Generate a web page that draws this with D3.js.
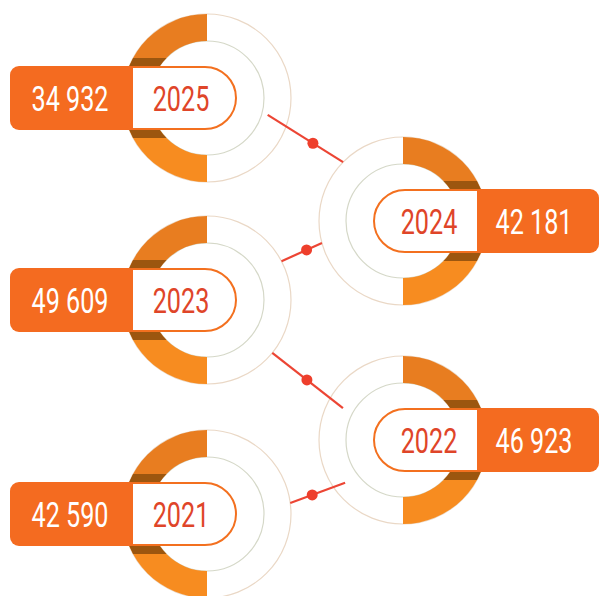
<!DOCTYPE html>
<html>
<head>
<meta charset="utf-8">
<script src="https://cdn.jsdelivr.net/npm/d3@7"></script>
<style>
  body { margin: 0; background: #fff; }
  text { font-family: "Roboto", "DejaVu Sans Condensed", sans-serif; }
</style>
</head>
<body>
<div id="chart"></div>
<script>
// data
var years = ["2025", "2024", "2023", "2022", "2021"];
var values = [34932, 42181, 49609, 46923, 42590];

var svgWidth = 599;
var svgHeight = 596;

var outerR = 84;
var innerR = 57;
var labelH = 62;

// ring layout (left / right column, staggered rows)
var xPos = d3.scaleOrdinal().domain(["left", "right"]).range([207, 403]);
var yPos = d3.scaleOrdinal().domain(years).range([98, 221, 300, 440, 514]);

// connectors between consecutive rings: angle (deg) and radius at each end
var links = [
  { from: "2025", to: "2024", a0: 15.6, r0: 63, a1: 224.5, r1: 84, t: 0.6 },
  { from: "2023", to: "2024", a0: -27.5, r0: 84, a1: 164.8, r1: 84, t: 0.62 },
  { from: "2023", to: "2022", a0: 39, r0: 84, a1: 208, r1: 68, t: 0.49 },
  { from: "2021", to: "2022", a0: -7.5, r0: 84, a1: 143.5, r1: 72, t: 0.4 }
];

var fmt = d3.formatLocale({ decimal: ".", thousands: " ", grouping: [3], currency: ["", ""] }).format(",d");

var rows = years.map(function(y, i) {
  return { year: y, value: values[i], side: i % 2 === 0 ? "left" : "right" };
});

var svg = d3.select("#chart")
  .append("svg")
  .attr("width", svgWidth)
  .attr("height", svgHeight);

var defs = svg.append("defs");

var arc = d3.arc().innerRadius(innerR).outerRadius(outerR);

// rounded rect with separate left / right corner radius
function roundRect(x, y, w, h, rl, rr) {
  var p = d3.path();
  p.moveTo(x + rl, y);
  p.lineTo(x + w - rr, y);
  if (rr) p.arcTo(x + w, y, x + w, y + rr, rr);
  p.lineTo(x + w, y + h - rr);
  if (rr) p.arcTo(x + w, y + h, x + w - rr, y + h, rr);
  p.lineTo(x + rl, y + h);
  if (rl) p.arcTo(x, y + h, x, y + h - rl, rl);
  p.lineTo(x, y + rl);
  if (rl) p.arcTo(x, y, x + rl, y, rl);
  p.closePath();
  return p.toString();
}

function center(year) {
  var i = years.indexOf(year);
  return [xPos(rows[i].side), yPos(year)];
}

function polar(c, deg, r) {
  var a = deg * Math.PI / 180;
  return [c[0] + r * Math.cos(a), c[1] + r * Math.sin(a)];
}

var ringLayer = svg.append("g");
var linkLayer = svg.append("g");
var labelLayer = svg.append("g");

rows.forEach(function(d, i) {
  var cx = xPos(d.side), cy = yPos(d.year);
  var left = d.side === "left";
  var g = ringLayer.append("g").attr("transform", "translate(" + cx + "," + cy + ")");

  // white half ring with thin outlines
  g.append("circle").attr("r", outerR).attr("fill", "#fff").attr("stroke", "#ead8c6").attr("stroke-width", 1.2);
  g.append("circle").attr("r", innerR).attr("fill", "#fff").attr("stroke", "#d5d8c8").attr("stroke-width", 1.2);

  // coloured half ring
  var top = left ? { startAngle: -Math.PI / 2, endAngle: 0 } : { startAngle: 0, endAngle: Math.PI / 2 };
  var bot = left ? { startAngle: -Math.PI, endAngle: -Math.PI / 2 } : { startAngle: Math.PI / 2, endAngle: Math.PI };
  g.append("path").attr("d", arc(top)).attr("fill", "#e87d20");
  g.append("path").attr("d", arc(bot)).attr("fill", "#f78c20");

  // dark shadow bands just outside the label
  var clipId = "clip" + i;
  defs.append("clipPath").attr("id", clipId)
    .append("path")
    .attr("transform", "translate(" + cx + "," + cy + ")")
    .attr("d", arc(left ? { startAngle: -Math.PI, endAngle: 0 } : { startAngle: 0, endAngle: Math.PI }));
  [-labelH / 2 - 9, labelH / 2].forEach(function(by) {
    ringLayer.append("rect")
      .attr("clip-path", "url(#" + clipId + ")")
      .attr("x", cx - outerR).attr("width", outerR * 2)
      .attr("y", cy + by).attr("height", 9)
      .attr("fill", "#9c560f");
  });

  // label: white pill with year + orange box with value
  var lg = labelLayer.append("g").attr("transform", "translate(" + cx + "," + cy + ")");
  var pillX = left ? -110 : -29;
  lg.append("rect")
    .attr("x", pillX).attr("y", -labelH / 2)
    .attr("width", 139).attr("height", labelH)
    .attr("rx", labelH / 2)
    .attr("fill", "#fff")
    .attr("stroke", "#f3701f")
    .attr("stroke-width", 2);

  var boxX = left ? -197 : 74;
  lg.append("path")
    .attr("d", left ? roundRect(boxX, -labelH / 2 - 1, 123, labelH + 2, 9, 0)
                    : roundRect(boxX, -labelH / 2 - 1, 122, labelH + 2, 0, 9))
    .attr("fill", "#f46b20");

  lg.append("text")
    .attr("transform", "translate(" + (left ? -137 : 131) + ",12.5) scale(0.72,1)")
    .attr("text-anchor", "middle")
    .attr("font-size", 35)
    .attr("fill", "#fff")
    .text(fmt(d.value));

  lg.append("text")
    .attr("transform", "translate(" + (left ? -26 : 26) + ",12.5) scale(0.72,1)")
    .attr("text-anchor", "middle")
    .attr("font-size", 35)
    .attr("fill", "#df4529")
    .text(d.year);
});

// connectors with dots
links.forEach(function(l) {
  var p0 = polar(center(l.from), l.a0, l.r0);
  var p1 = polar(center(l.to), l.a1, l.r1);
  linkLayer.append("line")
    .attr("x1", p0[0]).attr("y1", p0[1])
    .attr("x2", p1[0]).attr("y2", p1[1])
    .attr("stroke", "#ec4534")
    .attr("stroke-width", 2.2);
  linkLayer.append("circle")
    .attr("cx", p0[0] + (p1[0] - p0[0]) * l.t)
    .attr("cy", p0[1] + (p1[1] - p0[1]) * l.t)
    .attr("r", 5.5)
    .attr("fill", "#ee3f2c");
});
</script>
</body>
</html>
